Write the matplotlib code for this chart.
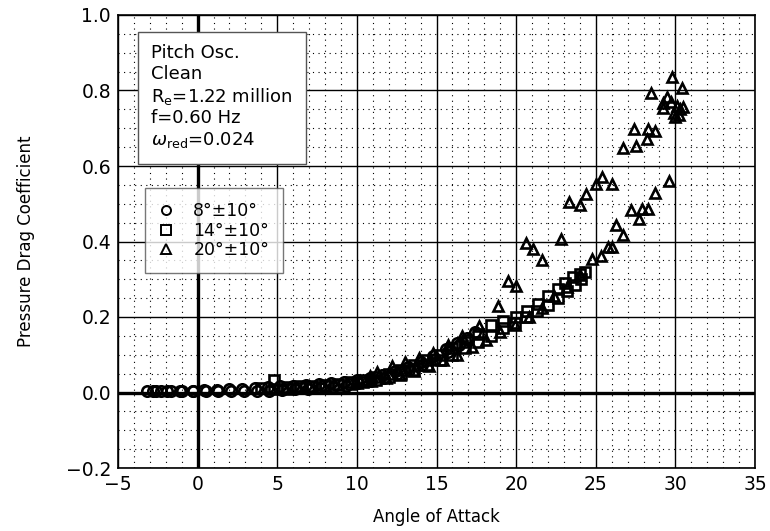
import matplotlib
matplotlib.use("Agg")
import matplotlib.pyplot as plt
from matplotlib.ticker import MultipleLocator
from matplotlib.lines import Line2D

# 8 deg +/- 10 deg (circles)
circ_x = [-3.2, -2.8, -2.3, -1.7, -1.0, -0.3, 0.4, 1.2, 2.0, 2.8, 3.6, 4.4, 5.2, 6.0, 6.8, 7.6,
          8.4, 9.2, 10.0, 10.8, 11.6, 12.4, 13.2, 14.0, 14.8, 15.6, 16.3, 16.9, 17.4,
          17.0, 16.4, 15.7, 14.9, 14.1, 13.3, 12.5, 11.7, 10.9, 10.1, 9.3, 8.5, 7.7, 6.9,
          6.1, 5.3, 4.5, 3.7, 2.9, 2.1, 1.3, 0.5, -0.3, -1.1, -1.9, -2.6]
circ_y = [0.005, 0.005, 0.005, 0.005, 0.005, 0.005, 0.006, 0.007, 0.008, 0.010, 0.012, 0.014,
          0.016, 0.018, 0.020, 0.022, 0.025, 0.028, 0.032, 0.038, 0.046, 0.056, 0.068, 0.082,
          0.097, 0.115, 0.130, 0.145, 0.160,
          0.140, 0.125, 0.108, 0.090, 0.074, 0.060, 0.048, 0.038, 0.030, 0.024, 0.018, 0.014,
          0.011, 0.009, 0.008, 0.006, 0.005, 0.004, 0.004, 0.003, 0.003, 0.003, 0.003, 0.003,
          0.004, 0.005]

# 14 deg +/- 10 deg (squares)
sq_x = [4.0, 4.8, 5.6, 6.4, 7.2, 8.0, 8.8, 9.6, 10.4, 11.2, 12.0, 12.8, 13.6, 14.4, 15.2,
        16.0, 16.8, 17.6, 18.4, 19.2, 20.0, 20.7, 21.4, 22.0, 22.6, 23.1, 23.6, 24.0, 24.3,
        24.1, 23.7, 23.2, 22.6, 22.0, 21.3, 20.6, 19.9, 19.2, 18.4, 17.6, 16.8, 16.0, 15.2,
        14.4, 13.6, 12.8, 12.0, 11.2, 10.4, 9.6, 8.8, 8.0, 7.2, 6.4, 5.6, 4.8]
sq_y = [0.012, 0.033, 0.015, 0.016, 0.018, 0.020, 0.023, 0.027, 0.032, 0.040, 0.050, 0.060,
        0.072, 0.085, 0.100, 0.118, 0.135, 0.155, 0.180, 0.190, 0.200, 0.215, 0.235, 0.255,
        0.275, 0.290, 0.305, 0.315, 0.320,
        0.300, 0.285, 0.270, 0.250, 0.232, 0.215, 0.200, 0.185, 0.170, 0.150, 0.135, 0.118,
        0.100, 0.085, 0.072, 0.060, 0.050, 0.041, 0.034, 0.028, 0.023, 0.019, 0.016, 0.014,
        0.012, 0.010, 0.010]

# 20 deg +/- 10 deg (triangles)
tri_x = [10.2, 10.8, 11.25, 12.2, 13.0, 13.9, 14.8, 15.7, 16.6, 17.7, 18.85, 19.5, 20.0,
         20.6, 21.05, 21.6, 22.8, 23.35, 24.0, 24.4, 25.0, 25.4, 26.0, 26.7, 27.4, 27.5,
         28.2, 28.3, 28.5, 28.75, 29.25, 29.5, 29.8, 30.4,
         29.9, 30.1, 30.3, 30.0, 30.5, 29.7, 30.2, 29.25,
         29.6, 28.75, 28.3, 27.9, 27.7, 27.2, 26.7, 26.3, 26.0, 25.8, 25.3, 24.75, 24.0,
         23.2, 22.4, 21.6, 20.8, 19.9, 19.0, 18.1, 17.2, 16.3, 15.4, 14.5, 13.6, 12.7,
         11.8, 10.9, 10.0]
tri_y = [0.030, 0.045, 0.055, 0.070, 0.080, 0.091, 0.105, 0.125, 0.150, 0.176, 0.230,
         0.295, 0.282, 0.397, 0.380, 0.351, 0.406, 0.505, 0.497, 0.525, 0.551, 0.570, 0.551,
         0.648, 0.697, 0.654, 0.672, 0.698, 0.794, 0.693, 0.767, 0.784, 0.835, 0.807,
         0.740, 0.760, 0.750, 0.730, 0.755, 0.770, 0.735, 0.753,
         0.561, 0.529, 0.486, 0.486, 0.459, 0.483, 0.417, 0.444, 0.386, 0.386, 0.362,
         0.353, 0.310, 0.280, 0.255, 0.225, 0.200, 0.180, 0.160, 0.140, 0.120, 0.100,
         0.085, 0.070, 0.058, 0.047, 0.038, 0.030, 0.025]

series_labels = ["8°±10°", "14°±10°", "20°±10°"]
info_lines = ["Pitch Osc.", "Clean", r"R$_\mathrm{e}$=1.22 million", "f=0.60 Hz",
              r"$\omega_\mathrm{red}$=0.024"]

plt.rcParams['font.family'] = ['DejaVu Sans']
fig = plt.figure(figsize=(7.7, 5.31), dpi=100)
ax = fig.add_axes([118/770, 1-468/531, (755-118)/770, (468-15)/531])

ax.set_xlim(-5, 35)
ax.set_ylim(-0.2, 1.0)
ax.xaxis.set_major_locator(MultipleLocator(5))
ax.xaxis.set_minor_locator(MultipleLocator(1))
ax.yaxis.set_major_locator(MultipleLocator(0.2))
ax.yaxis.set_minor_locator(MultipleLocator(0.05))
ax.grid(which='major', color='black', linestyle='-', linewidth=1.0)
ax.grid(which='minor', color='black', linestyle=(0, (1, 4)), linewidth=0.8)
ax.set_axisbelow(True)
ax.axhline(0, color='black', linewidth=2.4, zorder=1.5)
ax.axvline(0, color='black', linewidth=2.4, zorder=1.5)
ax.tick_params(which='both', length=0, labelsize=13.5, pad=5)
ax.set_yticklabels([f"{v:.1f}".replace("-", "\u2212") for v in ax.get_yticks()])
for s in ax.spines.values():
    s.set_linewidth(1.2)

mk = dict(linestyle='none', markerfacecolor='none', markeredgecolor='black',
          markeredgewidth=1.9, markersize=7.5)
ax.plot(circ_x, circ_y, marker='o', label=series_labels[0], **mk)
ax.plot(sq_x, sq_y, marker='s', label=series_labels[1], **mk)
ax.plot(tri_x, tri_y, marker='^', label=series_labels[2], **mk)

ax.set_xlabel("Angle of Attack", fontsize=12, labelpad=10)
ax.set_ylabel("Pressure Drag Coefficient", fontsize=12, labelpad=22)

ax.text(0.052, 0.935, "\n".join(info_lines), transform=ax.transAxes, fontsize=13,
        va='top', ha='left', linespacing=1.18,
        bbox=dict(boxstyle='square,pad=0.75', facecolor='white', edgecolor='#555555',
                  linewidth=1.0), zorder=5)

leg_mk = dict(linestyle='none', markerfacecolor='none', markeredgecolor='black',
              markeredgewidth=1.4, markersize=6.5)
handles = [Line2D([], [], marker=m, **leg_mk) for m in ['o', 's', '^']]
leg = ax.legend(handles, series_labels, loc='upper left', bbox_to_anchor=(0.042, 0.618),
                fontsize=12.5, frameon=True, fancybox=False, edgecolor='#555555',
                handlelength=0.8, handletextpad=1.2, labelspacing=0.1,
                borderpad=0.8, borderaxespad=0)
leg.get_frame().set_linewidth(1.0)
leg.set_zorder(5)

fig.savefig("out.png", dpi=100)
